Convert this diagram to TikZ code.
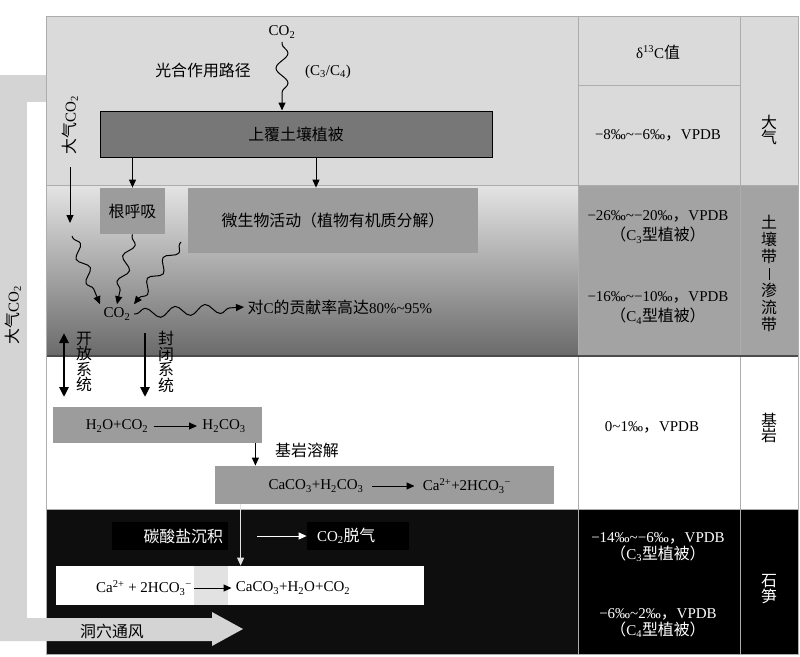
\documentclass[tikz,border=0pt]{standalone}
\usepackage{fontspec}
\setmainfont{Liberation Serif}
\newfontfamily\cjk[Scale=1.06]{Noto Sans CJK SC}
\newcommand{\zh}[1]{{\cjk #1}}
\usetikzlibrary{positioning,arrows.meta,decorations.pathmorphing,calc}

\definecolor{bandgray}{HTML}{D4D4D4}
\definecolor{atmgray}{HTML}{DADADA}
\definecolor{soiltop}{HTML}{E4E4E4}
\definecolor{soilmid}{HTML}{B0B0B0}
\definecolor{soilbot}{HTML}{6A6A6A}
\definecolor{soilcell}{HTML}{A3A3A3}
\definecolor{covergray}{HTML}{777777}
\definecolor{procgray}{HTML}{9C9C9C}
\definecolor{cavegray}{HTML}{0E0E0E}
\definecolor{linegray}{HTML}{ADADAD}
\definecolor{patchgray}{HTML}{E2E2E2}

\begin{document}
\begin{tikzpicture}[x=1pt, y=-1pt, thick,
    font=\fontsize{15}{17}\selectfont,
    box/.style={rectangle, inner sep=0pt},
    arr/.style={line width=1pt, -{Triangle[length=8pt,width=7pt]}},
    bigarr/.style={line width=2.6pt, -{Triangle[length=10pt,width=9pt]}},
    wavy/.style={arr, decorate,
        decoration={snake, amplitude=#1, segment length=26pt, pre length=2pt, post length=6pt}},
    wavy/.default=5pt,
    vtext/.style={align=center, font=\fontsize{15}{15.5}\selectfont}]

\fill[white] (0,0) rectangle (800,656);
\useasboundingbox (0,0) rectangle (800,656);

% Side band
\fill[bandgray] (0,75) rectangle (46,102);
\fill[bandgray] (0,75) rectangle (27,641);

% Zones
\fill[atmgray] (46,16) rectangle (578,185);
\shade[top color=soiltop, middle color=soilmid, bottom color=soilbot] (46,185) rectangle (578,356);
\fill[white] (46,356) rectangle (578,509);
\fill[cavegray] (46,509) rectangle (578,654);

% Table
\fill[atmgray] (578,16) rectangle (798,185);
\fill[soilcell] (578,185) rectangle (798,356);
\fill[white] (578,356) rectangle (798,509);
\fill[black] (578,509) rectangle (798,654);
\draw[linegray, thin] (578,16) -- (578,654) (740,16) -- (740,654)
    (578,85) -- (740,85) (46,185) -- (798,185) (46,509) -- (798,509);
\draw[line width=1.5pt, black!70] (46,356) -- (798,356);
\draw[linegray, thin] (46,16) rectangle (798,654);

% Cave ventilation arrow
\fill[bandgray] (0,618) -- (212,618) -- (212,612) -- (243,629)
    -- (212,646) -- (212,641) -- (0,641) -- cycle;
\node[rotate=90] (bandlab) at (13,315) {\zh{大气}CO\textsubscript{2}};
\node (vent) at (112,631) {\zh{洞穴通风}};

% Atmosphere
\node (co2top) at (282,32) {CO\textsubscript{2}};
\node (photo) at (203,70) {\zh{光合作用路径}};
\node (c3c4) at (328,72) {(C\textsubscript{3}/C\textsubscript{4})};
\node[  box,
        fill=covergray,
        draw=black,
        line width=1pt,
        minimum width=392pt,
        minimum height=46pt
    ] (cover) at (296,134) {\zh{上覆土壤植被}};
\node[rotate=90] (atmlab) at (70,125) {\zh{大气}CO\textsubscript{2}};
\coordinate (atmtop) at (70,167);
\coordinate (atmend) at (70,223);

% Soil
\node[  box,
        fill=procgray,
        minimum width=65pt,
        minimum height=46pt
    ] (root) at (132.5,211) {\zh{根呼吸}};
\node[  box,
        fill=procgray,
        minimum width=290pt,
        minimum height=65pt
    ] (microbe) at (333,220.5) {\zh{微生物活动（植物有机质分解）}};
\node (co2soil) at (117,314) {CO\textsubscript{2}};
\node[anchor=west] (contrib) at (244,307) {\zh{对}C\zh{的贡献率高达}80\%\textasciitilde95\%};
\coordinate (w1) at (72,236);
\coordinate (w3) at (181,242);
\node[vtext] (openlab) at (84,362) {\zh{开}\\\zh{放}\\\zh{系}\\\zh{统}};
\node[vtext] (closelab) at (166,362) {\zh{封}\\\zh{闭}\\\zh{系}\\\zh{统}};
\coordinate (opentop) at (64,333);
\coordinate (openbot) at (64,397);
\coordinate (closetop) at (145,333);
\coordinate (closebot) at (145,397);

% Bedrock
\node[  box,
        fill=procgray,
        minimum width=209pt,
        minimum height=36pt
    ] (h2obox) at (157.5,425) {};
\node[inner sep=5pt] (h2oL) at (117,426) {H\textsubscript{2}O+CO\textsubscript{2}};
\node[inner sep=5pt] (h2oR) at (224,426) {H\textsubscript{2}CO\textsubscript{3}};
\node (dissolve) at (307,450) {\zh{基岩溶解}};
\node[  box,
        fill=procgray,
        minimum width=339pt,
        minimum height=38pt
    ] (caco3box) at (384.5,485) {};
\node[inner sep=8pt] (caL) at (316,486) {CaCO\textsubscript{3}+H\textsubscript{2}CO\textsubscript{3}};
\node[inner sep=8pt] (caR) at (467,486) {Ca\textsuperscript{2+}+2HCO\textsubscript{3}\textsuperscript{−}};
\coordinate (dstart) at ($(h2obox.south east)+(-7,0)$);
\coordinate (pstart) at ($(caco3box.south west)+(26,0)$);

% Speleothem
\node[  box,
        fill=black,
        text=white,
        minimum width=116pt,
        minimum height=28pt,
        text width=106pt,
        align=right
    ] (carbdep) at (170,536) {\zh{碳酸盐沉积}};
\node[  box,
        fill=black,
        text=white,
        minimum width=102pt,
        minimum height=28pt,
        text width=82pt,
        align=left
    ] (degas) at (358,536) {CO\textsubscript{2}\zh{脱气}};
\node[  box,
        fill=white,
        minimum width=368pt,
        minimum height=39pt
    ] (whitebox) at (240,585.5) {};
\fill[patchgray] (194,566) rectangle (228,605);
\node[inner sep=2pt] (calL) at (144,588) {Ca\textsuperscript{2+} + 2HCO\textsubscript{3}\textsuperscript{−}};
\node[inner sep=4pt] (calR) at (293,588) {CaCO\textsubscript{3}+H\textsubscript{2}O+CO\textsubscript{2}};
\coordinate (cstart) at ($(carbdep.east)+(29,0)$);

% Table text
\node (dhead) at (658,52) {δ\textsuperscript{13}C\zh{值}};
\node (datm) at (658,135) {−8‰\textasciitilde−6‰\zh{，}VPDB};
\node[align=center] (dsoilA) at (658,227) {−26‰\textasciitilde−20‰\zh{，}VPDB\\[3pt]\zh{（}C\textsubscript{3}\zh{型植被）}};
\node[align=center] (dsoilB) at (658,308) {−16‰\textasciitilde−10‰\zh{，}VPDB\\[3pt]\zh{（}C\textsubscript{4}\zh{型植被）}};
\node (drock) at (652,427) {0\textasciitilde1‰\zh{，}VPDB};
\node[align=center, text=white] (dcaveA) at (658,547) {−14‰\textasciitilde−6‰\zh{，}VPDB\\[0pt]\zh{（}C\textsubscript{3}\zh{型植被）}};
\node[align=center, text=white] (dcaveB) at (658,623) {−6‰\textasciitilde2‰\zh{，}VPDB\\[0pt]\zh{（}C\textsubscript{4}\zh{型植被）}};
\node[vtext] (latm) at (769,130) {\zh{大}\\\zh{气}};
\node[align=center] (lsoil) at (769,273) {\zh{土}\\\zh{壤}\\\zh{带}\\\rule[-1pt]{0.8pt}{12pt}\\\zh{渗}\\\zh{流}\\\zh{带}};
\node[vtext] (lrock) at (769,428) {\zh{基}\\\zh{岩}};
\node[vtext, text=white] (lcave) at (769,589) {\zh{石}\\\zh{笋}};

% Arrows
\draw[wavy=6pt, decoration={segment length=30pt}] (co2top.south) -- (co2top.south |- cover.north);
\draw[arr] (atmtop) -- (atmend);
\draw[arr] (cover.south -| root.north) -- (root.north);
\draw[arr] ($(cover.south -| microbe.north)+(-17,0)$) -- ($(microbe.north)+(-17,0)$);
\draw[wavy] (w1) -- (co2soil.north west);
\draw[wavy] (root.south) -- (co2soil.north);
\draw[wavy] (w3) -- (co2soil.north east);
\draw[wavy=5pt, decoration={segment length=30pt}] (co2soil.east) -- (contrib.west);
\draw[line width=2.6pt, {Triangle[length=10pt,width=9pt]}-{Triangle[length=10pt,width=9pt]}] (opentop) -- (openbot);
\draw[bigarr] (closetop) -- (closebot);
\draw[arr] (h2oL) -- (h2oR);
\draw[arr] (dstart) -- (dstart |- caco3box.north);
\draw[arr] (caL) -- (caR);
\draw[arr, patchgray] (pstart) -- (pstart |- whitebox.north);
\draw[arr, white] (cstart) -- (degas.west);
\draw[arr] (calL) -- (calR);

\end{tikzpicture}
\end{document}
